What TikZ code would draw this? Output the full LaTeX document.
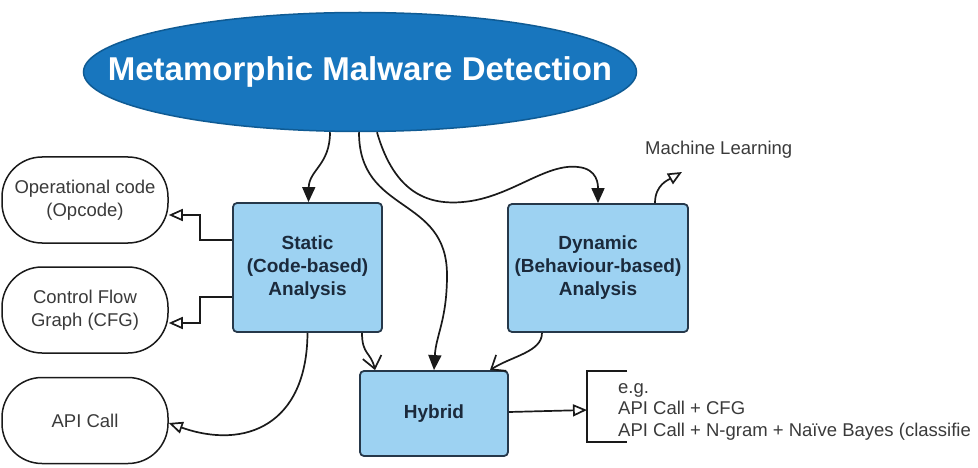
\documentclass[tikz,border=0pt]{standalone}
\usepackage{fontspec}
\setmainfont{Liberation Sans}
\usetikzlibrary{arrows.meta,shapes.geometric,calc}
\definecolor{ttlblue}{HTML}{1876BE}
\definecolor{ttlborder}{HTML}{0F5B94}
\definecolor{boxblue}{HTML}{9DD2F2}
\definecolor{boxborder}{HTML}{26384A}
\definecolor{boxtext}{HTML}{1B2A3C}
\definecolor{txtgray}{HTML}{3A3A3A}
\definecolor{linecol}{HTML}{1A1A1A}
\tikzset{
  bluebox/.style={draw=boxborder, fill=boxblue, line width=1.8pt, rounded corners=4pt,
    inner sep=0pt, align=center, text=boxtext,
    font=\fontsize{19}{23}\selectfont\bfseries},
  pill/.style={draw=linecol, fill=white, line width=1.5pt, rounded corners=40pt,
    minimum width=166pt, minimum height=86pt, inner sep=0pt, align=center,
    text=txtgray, font=\fontsize{18.5}{23}\selectfont},
  plain/.style={text=txtgray, font=\fontsize{18.5}{21.5}\selectfont, inner sep=0pt},
  conn/.style={draw=linecol, line width=1.7pt},
  fillarr/.style={conn, -{Triangle[length=15pt,width=13pt]}},
  openarr/.style={conn, -{Triangle[open,length=14pt,width=12pt,fill=white]}},
  barbarr/.style={conn, -{Straight Barb[length=12pt,width=19pt]}},
}
\begin{document}
\begin{tikzpicture}[x=1pt,y=-1pt]
\useasboundingbox (0,0) rectangle (978,468);

% title ellipse
\node[ellipse, draw=ttlborder, fill=ttlblue, line width=1.5pt,
      minimum width=553pt, minimum height=119pt, inner sep=0pt,
      text=white, font=\fontsize{33}{36}\selectfont\bfseries] (ttl) at (360,72)
      {\makebox[0pt]{\raisebox{3pt}{Metamorphic Malware Detection}}};

% analysis boxes
\node[bluebox, minimum width=149pt, minimum height=129pt] (st) at (307.5,267.5)
  {Static\\(Code-based)\\Analysis};
\node[bluebox, minimum width=180pt, minimum height=128pt] (dy) at (598,268)
  {Dynamic\\(Behaviour-based)\\Analysis};
\node[bluebox, minimum width=148pt, minimum height=85pt] (hy) at (434,413.5)
  {Hybrid};

% left pills
\node[pill] (op) at (85,200) {Operational code\\(Opcode)};
\node[pill] (cfg) at (85,310) {Control Flow\\Graph (CFG)};
\node[pill] (api) at (85,420.5) {API Call};

% machine learning
\node[plain, anchor=west] (ml) at (645,150) {Machine Learning};
\coordinate (mlpt) at (682,172);

% example list
\node[plain, anchor=north west, align=left] (eg) at (618,383)
  {e.g.\\API Call + CFG\\API Call + N-gram + Naïve Bayes (classifie};
\coordinate (br) at (587,410);
\draw[conn, line width=1.5pt] (627,371) -- (587,371) -- (587,442) -- (627,442);

% connectors from the title
\draw[fillarr] ([xshift=-30pt]ttl.south) .. controls (330,165) and (309,170) .. ([xshift=1pt]st.north);
\draw[fillarr] ([xshift=-1pt]ttl.south) .. controls (359,215) and (447,195) .. (447,275)
  .. controls (447,320) and (436,335) .. (hy.north);
\draw[fillarr] ([xshift=17pt]ttl.south) .. controls (395,195) and (430,205) .. (463,202)
  .. controls (510,198) and (545,163) .. (578,167)
  .. controls (598,169) and (598,185) .. (dy.north);

% static to left pills
\draw[openarr] ([yshift=27.5pt]st.west) -- (200,240) |- ([yshift=-15pt]op.east);
\draw[openarr] ([yshift=-29.5pt]st.west) -- (200,297) |- ([yshift=-13pt]cfg.east);
\draw[openarr] (st.south) .. controls (307,425) and (245,450) .. ([yshift=-2.5pt]api.east);

% into hybrid
\draw[barbarr] ([xshift=54.5pt]st.south) .. controls (362,355) and (371,352) .. ([xshift=-59pt]hy.north);
\draw[barbarr] ([xshift=-56pt]dy.south) .. controls (542,352) and (512,356) .. ([xshift=56pt]hy.north);

% dynamic to machine learning
\draw[openarr] ([xshift=57pt]dy.north) .. controls (655,185) and (668,180) .. (mlpt);

% hybrid to examples
\draw[openarr] ([yshift=1.5pt]hy.east) -- (br);
\end{tikzpicture}
\end{document}
